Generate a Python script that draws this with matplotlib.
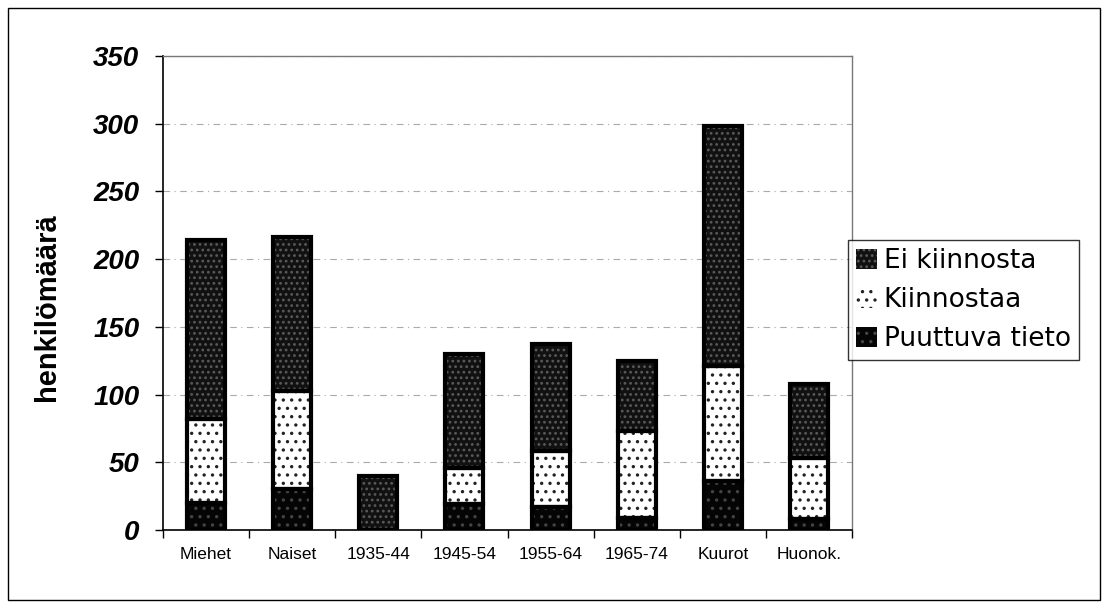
import numpy as np
import matplotlib.pyplot as plt
from matplotlib.patches import Rectangle

plt.rcParams['font.family'] = ['Liberation Sans', 'DejaVu Sans']
plt.rcParams['hatch.linewidth'] = 1.2

categories = ["Miehet", "Naiset", "1935-44", "1945-54", "1955-64", "1965-74", "Kuurot", "Huonok."]
puuttuva = [20, 30, 0, 19, 17, 9, 36, 8]
kiinnostaa = [62, 73, 0, 27, 41, 64, 85, 45]
ei_kiinnosta = [132, 113, 40, 84, 79, 52, 177, 55]
yticks = [0, 50, 100, 150, 200, 250, 300, 350]

fig = plt.figure(figsize=(11.06, 6.08), dpi=100)
ax = fig.add_axes([163 / 1106, 1 - 530 / 608, 689 / 1106, 474 / 608])

x = np.arange(len(categories))
w = 0.44
p = np.array(puuttuva)
k = np.array(kiinnostaa)
e = np.array(ei_kiinnosta)

# Fill layers with dotted hatching, then a black outline on top
b1 = ax.bar(x, p, w, color="#050505", edgecolor="#444444", hatch="..", linewidth=0, zorder=3)
b2 = ax.bar(x, k, w, bottom=p, color="white", edgecolor="#222222", hatch="..", linewidth=0, zorder=3)
b3 = ax.bar(x, e, w, bottom=p + k, color="#111111", edgecolor="#5a5a5a", hatch="...", linewidth=0, zorder=3)
for bottom, h in [(0, p), (p, k), (p + k, e)]:
    ax.bar(x, h, w, bottom=bottom, fill=False, edgecolor="black", linewidth=3, zorder=4)

ax.set_xlim(-0.5, len(categories) - 0.5)
ax.set_ylim(0, 350)
ax.set_yticks(yticks)
ax.set_yticklabels([str(v) for v in yticks], fontsize=20, fontweight="bold", fontstyle="italic")
ax.set_xticks(x)
ax.set_xticklabels(categories, fontsize=12.5)
ax.set_xticks(np.arange(len(categories) + 1) - 0.5, minor=True)
ax.tick_params(axis="x", which="major", length=0, pad=12)
ax.tick_params(axis="x", which="minor", length=6, width=1, direction="out")
ax.tick_params(axis="y", length=6, width=1, direction="out", pad=11)
ax.grid(axis="y", color="#aaaaaa", linestyle=(0, (6, 4, 1, 4)), linewidth=0.8, zorder=0)

ax.set_ylabel("henkilömäärä", fontsize=21, fontweight="bold")
ax.yaxis.set_label_coords(-0.148, 0.47)

for side in ["left", "bottom"]:
    ax.spines[side].set_color("black")
    ax.spines[side].set_linewidth(1.2)
for side in ["top", "right"]:
    ax.spines[side].set_color("#777777")
    ax.spines[side].set_linewidth(1.0)

leg = fig.legend([b3, b2, b1], ["Ei kiinnosta", "Kiinnostaa", "Puuttuva tieto"],
                 loc="upper left", bbox_to_anchor=(848 / 1106, 1 - 240 / 608),
                 prop={"family": "DejaVu Sans", "size": 19},
                 frameon=True, fancybox=False, edgecolor="black",
                 handlelength=0.8, handleheight=0.8, handletextpad=0.25,
                 borderpad=0.3, labelspacing=0.5, borderaxespad=0)
leg.get_frame().set_linewidth(1.0)

fig.patches.append(Rectangle((8 / 1106, 8 / 608), 1092 / 1106, 592 / 608,
                             transform=fig.transFigure, fill=False,
                             edgecolor="black", linewidth=1.0))

fig.savefig("out.png", dpi=100)
